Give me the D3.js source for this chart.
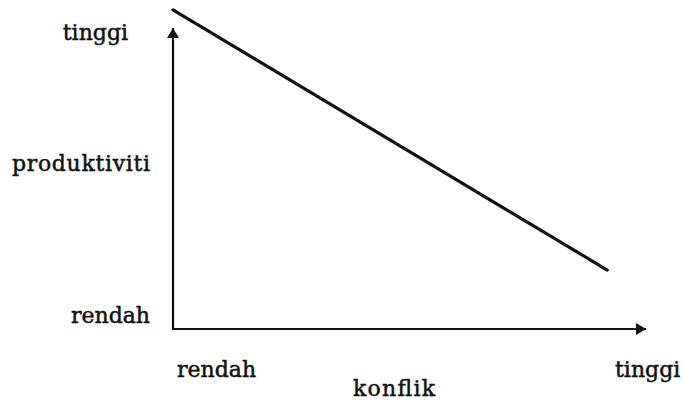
<!DOCTYPE html>
<meta charset="utf-8">
<style>
    body { margin: 0; background: #fff; }
    text { font-family: "DejaVu Serif", serif; font-size: 22px; fill: #111; stroke: #111; stroke-width: 0.5px; }
    .axis line { stroke: #111; stroke-width: 2.2px; }
    .trend { stroke: #111; stroke-width: 3.2px; fill: none; stroke-linecap: round; }
</style>
<svg width="685" height="400"></svg>
<script src="https://d3js.org/d3.v7.min.js"></script>
<script>

    // konflik (x) vs produktiviti (y), both on a 0..1 rendah..tinggi scale
    var konflik = [0, 0.918],
        produktiviti = [1.06, 0.196];

    var yLabels = ["rendah", "produktiviti", "tinggi"],
        yLabelPos = [0, 0.5, 1],
        xLabels = ["rendah", "tinggi"],
        xLabelPos = [0, 1];

    var svg = d3.select("svg");

    var x = d3.scaleLinear().domain([0, 1]).range([173, 646]),
        y = d3.scaleLinear().domain([0, 1]).range([329, 28]);

    svg.append("defs").append("marker")
        .attr("id", "arrow")
        .attr("viewBox", "0 0 10 12")
        .attr("refX", 10).attr("refY", 6)
        .attr("markerWidth", 10).attr("markerHeight", 12)
        .attr("markerUnits", "userSpaceOnUse")
        .attr("orient", "auto")
        .append("path")
        .attr("d", "M0,0L10,6L0,12Z")
        .attr("fill", "#111");

    var axis = svg.append("g").attr("class", "axis");

    axis.append("line")
        .attr("x1", x(0)).attr("y1", y(0) + 1)
        .attr("x2", x(0)).attr("y2", y(1))
        .attr("marker-end", "url(#arrow)");

    axis.append("line")
        .attr("x1", x(0) - 1).attr("y1", y(0))
        .attr("x2", x(1)).attr("y2", y(0))
        .attr("marker-end", "url(#arrow)");

    var line = d3.line()
        .x(function (d) { return x(d[0]); })
        .y(function (d) { return y(d[1]); });

    svg.append("path")
        .attr("class", "trend")
        .attr("d", line(d3.zip(konflik, produktiviti)));

    // y labels: each has its own horizontal offset in the original
    var yAnchorX = [150, 150, 128],
        yDy = [-6, -8, 12];
    svg.selectAll(".ylab")
        .data(yLabels)
        .enter().append("text")
        .attr("class", "ylab")
        .attr("text-anchor", "end")
        .attr("x", function (d, i) { return yAnchorX[i]; })
        .attr("y", function (d, i) { return y(yLabelPos[i]) + yDy[i]; })
        .attr("textLength", function (d, i) { return i === 1 ? 138 : null; })
        .text(function (d) { return d; });

    var xDx = [4, -31];
    svg.selectAll(".xlab")
        .data(xLabels)
        .enter().append("text")
        .attr("class", "xlab")
        .attr("x", function (d, i) { return x(xLabelPos[i]) + xDx[i]; })
        .attr("y", 377)
        .text(function (d) { return d; });

    svg.append("text")
        .attr("text-anchor", "middle")
        .attr("x", 394)
        .attr("y", 396)
        .attr("textLength", 82)
        .text("konflik");

</script>
